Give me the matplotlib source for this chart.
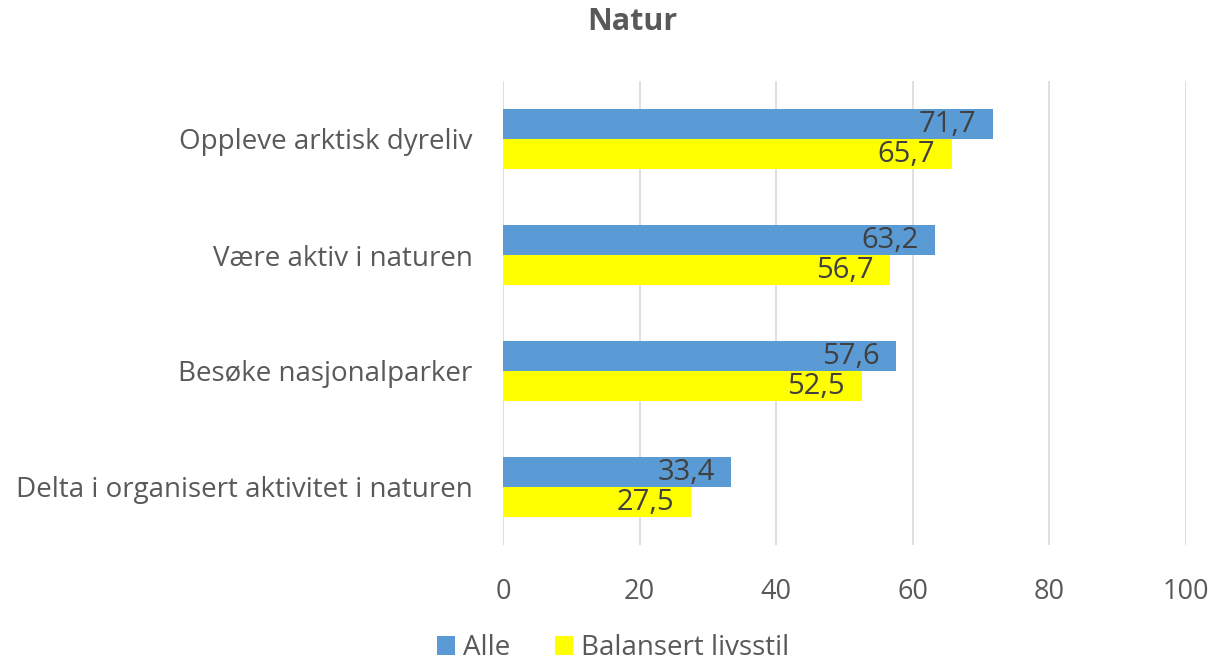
import numpy as np
import matplotlib.pyplot as plt

categories = ["Oppleve arktisk dyreliv", "Være aktiv i naturen",
              "Besøke nasjonalparker", "Delta i organisert aktivitet i naturen"]
alle = [71.7, 63.2, 57.6, 33.4]
balansert = [65.7, 56.7, 52.5, 27.5]
series_names = ["Alle", "Balansert livsstil"]
xticks = [0, 20, 40, 60, 80, 100]

plt.rcParams['font.family'] = ['Open Sans', 'DejaVu Sans']
txt = '#595959'

fig = plt.figure(figsize=(12.14, 6.61), dpi=100)
ax = fig.add_axes([503/1214, 1 - 545/661, (1186 - 503)/1214, (545 - 81)/661])

y = np.arange(len(categories))
h = 30/116
b1 = ax.barh(y - h/2, alle, height=h, color='#5b9bd5', label=series_names[0], zorder=3)
b2 = ax.barh(y + h/2, balansert, height=h, color='#ffff00', label=series_names[1], zorder=3)

for bars in (b1, b2):
    for r in bars:
        v = r.get_width()
        ax.text(v - 2.4, r.get_y() + r.get_height()/2, f"{v:.1f}".replace('.', ','),
                ha='right', va='center', fontsize=21, color='#404040', zorder=4)

ax.set_ylim(3.5, -0.5)
ax.set_xlim(0, 100)
ax.set_xticks(xticks)
ax.set_yticks(y)
ax.set_yticklabels(categories)
ax.tick_params(axis='y', length=0, pad=22, labelsize=20, labelcolor=txt)
ax.tick_params(axis='x', length=0, pad=24, labelsize=19.5, labelcolor=txt)
ax.grid(axis='x', color='#d9d9d9', linewidth=1.2, zorder=0)
for s in ax.spines.values():
    s.set_visible(False)

fig.text(632/1214, 1 - 22/661, "Natur", ha='center', va='center', fontsize=22,
         fontweight='bold', color=txt)

leg = fig.legend(handles=[b1, b2], labels=series_names, loc='center',
                 bbox_to_anchor=(0.505, 1 - 648/661), ncol=2, frameon=False,
                 fontsize=20, handlelength=0.65, handleheight=0.65,
                 handletextpad=0.3, columnspacing=1.6)
for t in leg.get_texts():
    t.set_color(txt)

fig.savefig('out.png', dpi=100)
